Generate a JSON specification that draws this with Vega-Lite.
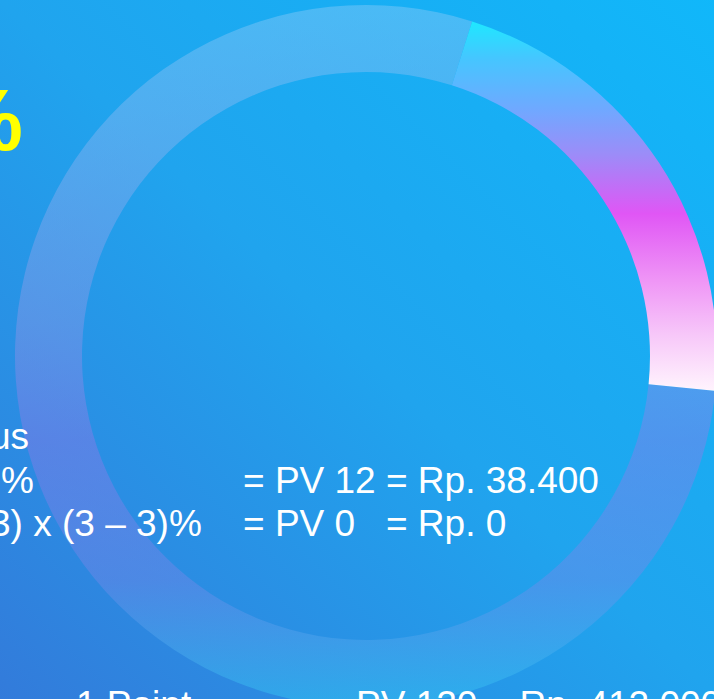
{
  "$schema": "https://vega.github.io/schema/vega-lite/v6.json",
  "width": 732,
  "height": 712,
  "autosize": {"type": "none"},
  "padding": 0,
  "background": "#1fa5ee",
  "view": {
    "stroke": null,
    "fill": {"gradient": "linear", "x1": 1, "y1": 0, "x2": 0, "y2": 1,
      "stops": [{"offset": 0, "color": "#10b8fa"}, {"offset": 0.5, "color": "#20a4ee"}, {"offset": 1, "color": "#337ada"}]}
  },
  "datasets": {
    "ring": [
      {"part": "achieved", "order": 1, "value": 21.7},
      {"part": "remaining", "order": 2, "value": 78.3}
    ],
    "headline": [
      {"text": "%", "line": 0, "tab": 2}
    ],
    "body": [
      {"text": "us", "line": 1, "tab": 0},
      {"text": "%", "line": 2, "tab": 1},
      {"text": "= PV 12 = Rp. 38.400", "line": 2, "tab": 4},
      {"text": "3) x (3 – 3)%", "line": 3, "tab": 0},
      {"text": "= PV 0\u00a0\u00a0\u00a0= Rp. 0", "line": 3, "tab": 4},
      {"text": "1 Point", "line": 4, "tab": 3},
      {"text": "PV 120 = Rp. 412.000", "line": 4, "tab": 5}
    ]
  },
  "layer": [
    {
      "data": {"name": "ring"},
      "transform": [
        {"stack": "value", "groupby": [], "sort": [{"field": "order", "order": "ascending"}], "as": ["v0", "v1"]},
        {"filter": "datum.part === 'remaining'"}
      ],
      "mark": {
        "type": "arc", "radius": 351, "radius2": 284, "fillOpacity": 0.4,
        "fill": {"gradient": "linear", "x1": 0, "y1": 0, "x2": 0, "y2": 1,
          "stops": [
            {"offset": 0, "color": "#96cdf8"},
            {"offset": 0.45, "color": "#9a98e8"},
            {"offset": 0.62, "color": "#9b76e8"},
            {"offset": 0.82, "color": "#7d87e9"},
            {"offset": 1, "color": "#32d4f5"}
          ]}
      },
      "encoding": {
        "theta": {"field": "v0", "type": "quantitative", "scale": {"domain": [0, 100], "range": [0.3072, 6.5904]}},
        "theta2": {"field": "v1"}
      }
    },
    {
      "data": {"name": "ring"},
      "transform": [
        {"stack": "value", "groupby": [], "sort": [{"field": "order", "order": "ascending"}], "as": ["v0", "v1"]},
        {"filter": "datum.part === 'achieved'"}
      ],
      "mark": {
        "type": "arc", "radius": 351, "radius2": 284,
        "fill": {"gradient": "linear", "x1": 0, "y1": 0, "x2": 0, "y2": 1,
          "stops": [
            {"offset": 0, "color": "#1ee8ff"},
            {"offset": 0.1, "color": "#45c6ff"},
            {"offset": 0.24, "color": "#70a8ff"},
            {"offset": 0.36, "color": "#9c8cf8"},
            {"offset": 0.52, "color": "#e056f5"},
            {"offset": 0.7, "color": "#ef95f6"},
            {"offset": 0.85, "color": "#f7c8f9"},
            {"offset": 1, "color": "#fff4fd"}
          ]}
      },
      "encoding": {
        "theta": {"field": "v0", "type": "quantitative", "scale": {"domain": [0, 100], "range": [0.3072, 6.5904]}},
        "theta2": {"field": "v1"}
      }
    },
    {
      "data": {"name": "body"},
      "mark": {"type": "text", "font": "Liberation Sans", "fontSize": 37, "color": "#ffffff", "align": "left", "baseline": "alphabetic"},
      "encoding": {
        "x": {"field": "tab", "type": "quantitative", "axis": null,
          "scale": {"domain": [0, 1, 2, 3, 4, 5], "range": [-10, 1, 23, 76, 243, 356], "nice": false, "zero": false}},
        "y": {"field": "line", "type": "quantitative", "axis": null,
          "scale": {"domain": [0, 1, 2, 3, 4], "range": [150, 449, 493, 536, 717], "nice": false, "zero": false}},
        "text": {"field": "text"}
      }
    },
    {
      "data": {"name": "headline"},
      "mark": {"type": "text", "font": "Liberation Sans", "fontSize": 88, "fontWeight": "bold", "color": "#ffff00", "align": "right", "baseline": "alphabetic"},
      "encoding": {
        "x": {"field": "tab", "type": "quantitative", "axis": null,
          "scale": {"domain": [0, 1, 2, 3, 4, 5], "range": [-10, 1, 23, 76, 243, 356], "nice": false, "zero": false}},
        "y": {"field": "line", "type": "quantitative", "axis": null,
          "scale": {"domain": [0, 1, 2, 3, 4], "range": [150, 449, 493, 536, 717], "nice": false, "zero": false}},
        "text": {"field": "text"}
      }
    }
  ]
}
